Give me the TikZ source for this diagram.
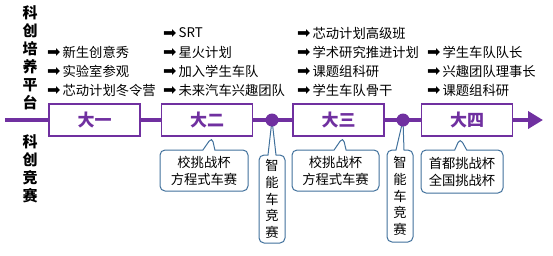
\documentclass[tikz,border=0pt]{standalone}
\usepackage{fontspec}
\setmainfont{Noto Sans CJK SC}
\newfontfamily\symfont{DejaVu Sans}
\usepackage{tikz}
\usetikzlibrary{arrows.meta,positioning,shapes.callouts}
\definecolor{grade}{HTML}{7030A0}
\definecolor{bubbleline}{HTML}{41719C}
\newcommand{\itemarrow}{{\symfont\fontsize{16}{16}\selectfont\raisebox{-0.5pt}{➡}}\hspace{2pt}}

\begin{document}
\begin{tikzpicture}[x=1pt,y=-1pt,
  timeline/.style={draw=grade,line width=4pt,-{Triangle[length=15pt,width=17pt]}},
  year/.style={draw=grade,line width=1.5pt,fill=white,minimum width=91pt,
    minimum height=32pt,inner sep=0pt,text=grade,
    font=\fontsize{17}{17}\selectfont\bfseries},
  milestone/.style={circle,fill=grade,minimum size=13pt,inner sep=0pt},
  item/.style={anchor=west,inner sep=0pt,font=\fontsize{13.3}{16}\selectfont},
  bubble/.style={rectangle callout,draw=bubbleline,line width=1pt,fill=white,
    rounded corners=5pt,align=center,inner sep=0pt,callout pointer width=12pt,
    font=\fontsize{13.3}{17}\selectfont},
  tallbubble/.style={bubble,minimum width=26pt,callout pointer width=8pt,
    font=\fontsize{13.3}{16.7}\selectfont},
  side/.style={align=center,inner sep=0pt,font=\fontsize{15}{18}\selectfont\bfseries},
]
  \useasboundingbox (0,0) rectangle (553,255);

  % time axis
  \coordinate (start) at (5,120);
  \coordinate (end) at (543,120);
  \draw[timeline] (start) -- (end);

  \node[side] (platform) at (30,58) {科\\创\\培\\养\\平\\台};
  \node[side] (contest) at (30,168.5) {科\\创\\竞\\赛};

  % competitions
  \node[bubble,minimum width=88pt,minimum height=41pt,
    callout absolute pointer={(212,137)}] (b2) at (204,170.5)
    {校挑战杯\\方程式车赛};
  \node[tallbubble,minimum height=88pt,
    callout absolute pointer={(272,120)}] (v1) at (272,199)
    {智\\能\\车\\竞\\赛};
  \node[bubble,minimum width=87pt,minimum height=41pt,
    callout absolute pointer={(343,137)}] (b3) at (335.5,170.5)
    {校挑战杯\\方程式车赛};
  \node[tallbubble,minimum height=92pt,
    callout absolute pointer={(403,120)}] (v2) at (400,196)
    {智\\能\\车\\竞\\赛};
  \node[bubble,minimum width=82pt,minimum height=43pt,
    callout absolute pointer={(460,138)}] (b4) at (462,171.5)
    {首都挑战杯\\全国挑战杯};

  % years
  \node[year] (y1) at (94.5,120) {大一};
  \node[year,right=20pt of y1] (y2) {大二};
  \node[year] (y3) at (338.5,120) {大三};
  \node[year] (y4) at (467,120) {大四};
  \node[milestone] (m1) at (272,120) {};
  \node[milestone] (m2) at (403,120) {};

  % platform items
  \foreach \t [count=\i from 0] in {新生创意秀,实验室参观,芯动计划冬令营}
    \node[item] (a\i) at (47,{52+19*\i}) {\itemarrow\t};
  \foreach \t [count=\i from 0] in {SRT,星火计划,加入学生车队,未来汽车兴趣团队}
    \node[item] (b\i) at (163,{33+19*\i}) {\itemarrow\t};
  \foreach \t [count=\i from 0] in {芯动计划高级班,学术研究推进计划,课题组科研,学生车队骨干}
    \node[item] (c\i) at (297,{33+19*\i}) {\itemarrow\t};
  \foreach \t [count=\i from 0] in {学生车队队长,兴趣团队理事长,课题组科研}
    \node[item] (d\i) at (427,{52+19*\i}) {\itemarrow\t};
\end{tikzpicture}
\end{document}
